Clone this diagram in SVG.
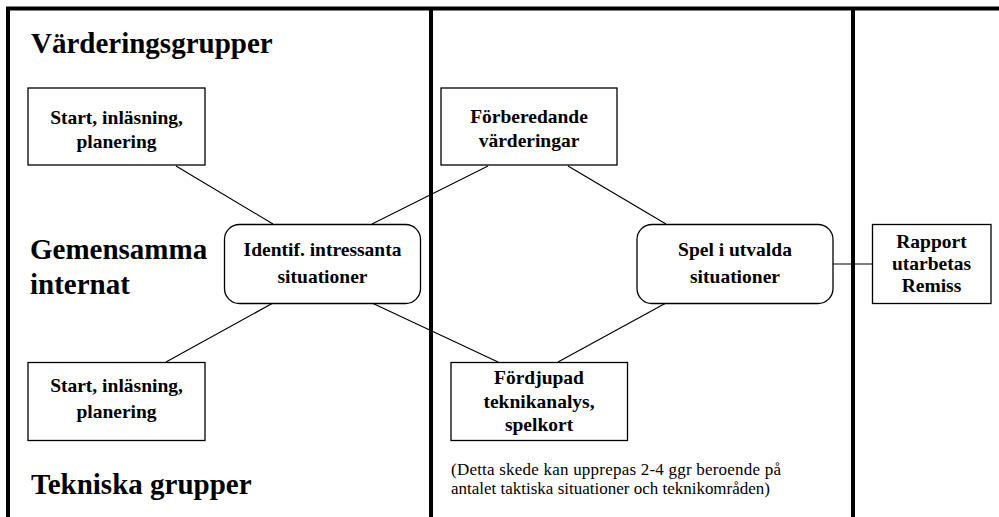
<svg xmlns="http://www.w3.org/2000/svg" width="999" height="517" viewBox="0 0 999 517">
  <style>
    .frame { fill: none; stroke: #000; stroke-width: 4; }
    .box { fill: #fff; stroke: #000; stroke-width: 1.3; }
    .link { fill: none; stroke: #000; stroke-width: 1.2; }
    .lbl { font-family: "Liberation Serif", "Times New Roman", serif; font-weight: bold; font-size: 19.5px; text-anchor: middle; fill: #000; }
    .head { font-family: "Liberation Serif", "Times New Roman", serif; font-weight: bold; font-size: 29px; fill: #000; }
    .note { font-family: "Liberation Serif", "Times New Roman", serif; font-size: 17px; fill: #000; }
  </style>
  <rect width="999" height="517" fill="#fff"/>

  <!-- lane frame -->
  <g id="frame">
    <path class="frame" d="M6 8.5 H999 M8 7 V517 M431 8 V517 M853 8 V517"/>
  </g>

  <!-- lane headings -->
  <g id="headings">
    <text class="head" x="31" y="53">Värderingsgrupper</text>
    <text class="head" x="30" y="259">Gemensamma</text>
    <text class="head" x="30" y="294">internat</text>
    <text class="head" x="31" y="494">Tekniska grupper</text>
  </g>

  <!-- connectors -->
  <g id="connectors">
    <line class="link" x1="176" y1="166" x2="273" y2="224"/>
    <line class="link" x1="372" y1="224" x2="488" y2="166"/>
    <line class="link" x1="568" y1="166" x2="666" y2="224"/>
    <line class="link" x1="273" y1="303" x2="166" y2="362"/>
    <line class="link" x1="372" y1="303" x2="498" y2="362"/>
    <line class="link" x1="666" y1="303" x2="558" y2="362"/>
    <line class="link" x1="833" y1="264" x2="872" y2="264"/>
  </g>

  <g id="start-vard">
    <rect class="box" x="28" y="88" width="177" height="77"/>
    <text class="lbl" x="116.5" y="124">Start, inläsning,</text>
    <text class="lbl" x="116.5" y="148">planering</text>
  </g>

  <g id="forberedande">
    <rect class="box" x="441" y="88" width="176" height="77"/>
    <text class="lbl" x="529" y="123">Förberedande</text>
    <text class="lbl" x="529" y="147">värderingar</text>
  </g>

  <g id="identif">
    <rect class="box" x="224.5" y="224.5" width="196" height="79" rx="15" ry="15"/>
    <text class="lbl" x="322.5" y="255.5">Identif. intressanta</text>
    <text class="lbl" x="322.5" y="283">situationer</text>
  </g>

  <g id="spel">
    <rect class="box" x="637" y="224.5" width="196" height="79" rx="15" ry="15"/>
    <text class="lbl" x="735" y="255.5">Spel i utvalda</text>
    <text class="lbl" x="735" y="283">situationer</text>
  </g>

  <g id="rapport">
    <rect class="box" x="872.5" y="224.5" width="118.5" height="79"/>
    <text class="lbl" x="931.5" y="248">Rapport</text>
    <text class="lbl" x="931.5" y="270">utarbetas</text>
    <text class="lbl" x="931.5" y="292">Remiss</text>
  </g>

  <g id="start-tekn">
    <rect class="box" x="28" y="362.5" width="177" height="78"/>
    <text class="lbl" x="116.5" y="391.5">Start, inläsning,</text>
    <text class="lbl" x="116.5" y="418">planering</text>
  </g>

  <g id="fordjupad">
    <rect class="box" x="451" y="362.5" width="176.5" height="78"/>
    <text class="lbl" x="539" y="384">Fördjupad</text>
    <text class="lbl" x="539" y="408">teknikanalys,</text>
    <text class="lbl" x="539" y="431">spelkort</text>
  </g>

  <g id="note">
    <text class="note" x="451" y="474.5" textLength="330" lengthAdjust="spacing">(Detta skede kan upprepas 2-4 ggr beroende på</text>
    <text class="note" x="451" y="493.5" textLength="319" lengthAdjust="spacing">antalet taktiska situationer och teknikområden)</text>
  </g>
</svg>
